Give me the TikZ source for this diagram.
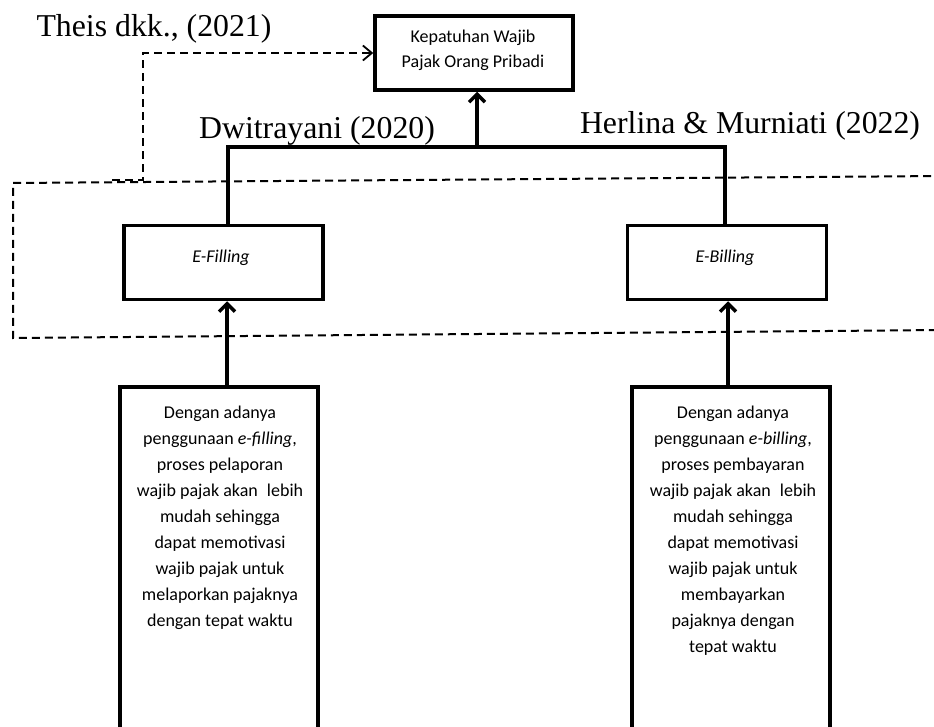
\documentclass[tikz,border=0pt]{standalone}
\usepackage{fontspec}
\setmainfont{Liberation Serif}
\newfontfamily\calib{Carlito}
\usetikzlibrary{arrows.meta}
\begin{document}
\begin{tikzpicture}[x=1pt,y=-1pt,
  box/.style={draw=black, line width=3.5pt, rectangle, inner sep=0pt, align=center,
              font=\calib\fontsize{18}{25}\selectfont},
  smallbox/.style={box, minimum width=199pt, minimum height=74pt},
  tallbox/.style={box, minimum width=198pt, minimum height=380pt, anchor=north},
  desc/.style={inner sep=0pt, align=center, anchor=north, font=\calib\fontsize{18}{26}\selectfont},
  cite/.style={inner sep=0pt, anchor=base, font=\fontsize{31.8}{36}\selectfont},
  solidline/.style={line width=3.5pt},
  arr/.style={line width=3.5pt, -{Straight Barb[length=8pt,width=16pt]}},
  dashline/.style={line width=2pt, dash pattern=on 8pt off 5pt},
  dasharr/.style={dashline, -{Straight Barb[length=9pt,width=15pt,line width=1.8pt]}}
]
\useasboundingbox (0,0) rectangle (934,727);
\clip (0,0) rectangle (934,727);

% nodes
\node[box, minimum width=198pt, minimum height=74pt] (kep) at (474,53) {};
\node[inner sep=0pt, align=center, font=\calib\fontsize{18}{25}\selectfont] (keptxt) at (473,50.5)
  {Kepatuhan Wajib\\Pajak Orang Pribadi};
\node[smallbox] (efill) at (223.5,262.5) {};
\node[font=\calib\itshape\fontsize{18}{26}\selectfont, inner sep=0pt] (eftxt) at (221,258) {E-Filling};
\node[smallbox] (ebill) at (727,262.5) {};
\node[font=\calib\itshape\fontsize{18}{26}\selectfont, inner sep=0pt] (ebtxt) at (725,258) {E-Billing};

\node[tallbox] (fdesc) at (219,385) {};
\node[desc] (fdtxt) at (220,406) {Dengan adanya\\penggunaan \textit{e-filling},\\proses pelaporan\\wajib pajak akan\hspace{5pt} lebih\\mudah sehingga\\dapat memotivasi\\wajib pajak untuk\\melaporkan pajaknya\\dengan tepat waktu};
\node[tallbox] (bdesc) at (731,385) {};
\node[desc] (bdtxt) at (733,406) {Dengan adanya\\penggunaan \textit{e-billing},\\proses pembayaran\\wajib pajak akan\hspace{5pt} lebih\\mudah sehingga\\dapat memotivasi\\wajib pajak untuk\\membayarkan\\pajaknya dengan\\tepat waktu};

% citation labels
\node[cite] (theis) at (154,37) {Theis dkk., (2021)};
\node[cite] (dwi) at (317,139) {Dwitrayani (2020)};
\node[cite] (herl) at (750,134) {Herlina \& Murniati (2022)};

% solid connectors
\coordinate (jl) at (228,147);
\coordinate (jr) at (725,147);
\coordinate (jm) at (477,147);
\draw[solidline] (jl |- efill.north) -- (jl) -- (jr) -- (jr |- ebill.north);
\draw[arr] (jm) -- (jm |- kep.south);
\coordinate (cl) at (227,0);
\coordinate (cr) at (728,0);
\draw[arr] (cl |- fdesc.north) -- (cl |- efill.south);
\draw[arr] (cr |- bdesc.north) -- (cr |- ebill.south);

% dashed frame
\coordinate (dtr) at (944,176);
\coordinate (dtl) at (13,183);
\coordinate (dbl) at (13,338);
\coordinate (dbr) at (944,330);
\draw[dashline] (dtr) -- (dtl) -- (dbl) -- (dbr);

% dashed arrow to Kepatuhan
\coordinate (ds) at (112,180);
\coordinate (dc) at (143,180);
\draw[dasharr] (ds) -- (dc) -- (dc |- kep.west) -- (kep.west);
\end{tikzpicture}
\end{document}
